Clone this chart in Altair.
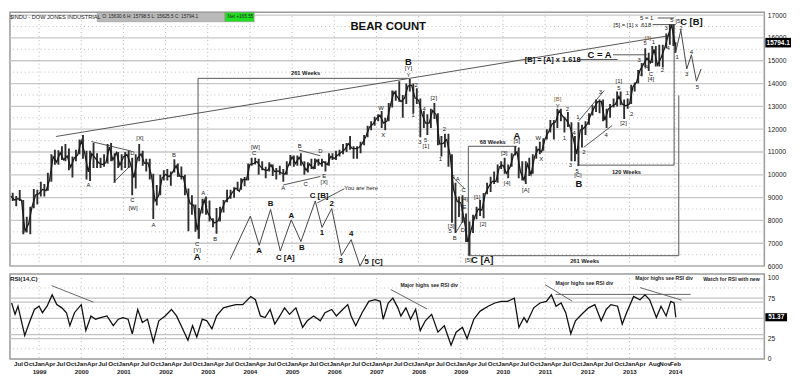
import altair as alt
import pandas as pd

FONT = "Liberation Sans"
W, H1, H2 = 764, 257, 86
T0, T1 = 1998.31, 2016.2

# ---------------- monthly price bars, Apr 1998 .. Feb 2014 ----------------
HIGH = [9184, 9211, 9070, 9338, 8900, 8160, 8600, 9380, 9350,
        9700, 9600, 10090, 10900, 11100, 11080, 11250, 11350, 11150, 10800, 11100, 11550,
        11750, 11050, 11050, 11400, 10950, 10750, 10900, 11350, 11400, 10950, 11000, 10900,
        11000, 11050, 10750, 10900, 11350, 11050, 10700, 10700, 10050, 9550, 10000, 10200,
        10250, 10150, 10680, 10500, 10360, 10000, 9400, 9100, 8700, 8550, 8950, 9050,
        8870, 8100, 8550, 8600, 8900, 9350, 9350, 9450, 9700, 9850, 9900, 10500,
        10750, 10750, 10700, 10600, 10350, 10550, 10450, 10300, 10400, 10250, 10600, 10870,
        10850, 10850, 10950, 10600, 10550, 10700, 10720, 10700, 10700, 10600, 10950, 10950,
        11050, 11100, 11350, 11400, 11700, 11250, 11250, 11450, 11750, 12150, 12350, 12550,
        12650, 12800, 12500, 13150, 13700, 13700, 14100, 13500, 14000, 14200, 14000, 13800,
        13350, 12800, 12650, 12900, 13150, 12700, 11700, 11800, 11800, 10900, 9650, 9050,
        9100, 8300, 7950, 8250, 8600, 8900, 9200, 9650, 9920, 10150, 10450, 10600,
        10750, 10450, 10950, 11250, 11200, 10600, 10600, 10750, 10900, 11250, 11450, 11600,
        12000, 12400, 12400, 12900, 12900, 12550, 12750, 12300, 11700, 12300, 12200, 12350,
        12700, 13050, 13300, 13300, 13300, 12900, 13100, 13350, 13650, 13650, 13300, 13350,
        13950, 14050, 14600, 14900, 15550, 15350, 15650, 15650, 15700, 15700, 16200, 16600,
        16590, 15800]
LOW = [8870, 8850, 8627, 8850, 7400, 7470, 7400, 8540, 8700,
       9050, 9050, 9300, 9700, 10440, 10440, 10650, 10600, 10200, 9880, 10600, 10900,
       10700, 9800, 9730, 10300, 10300, 10300, 10350, 10500, 10600, 9650, 10300, 10200,
       10300, 10300, 9100, 9400, 10600, 10400, 10150, 9800, 8060, 8650, 9100, 9750,
       9750, 9520, 10100, 9900, 9800, 9100, 7530, 8250, 7500, 7200, 8300, 8250,
       7950, 7700, 7420, 7950, 8350, 8800, 8950, 9000, 9300, 9350, 9500, 9750,
       10400, 10450, 10000, 10200, 9850, 10150, 9950, 9800, 10000, 9700, 10000, 10400,
       10350, 10400, 10400, 10000, 10100, 10250, 10250, 10400, 10350, 10150, 10400, 10650,
       10650, 10800, 10900, 11000, 11100, 10700, 10700, 10950, 11300, 11650, 11950, 12150,
       12350, 12050, 11950, 12350, 12950, 13250, 13200, 12500, 13100, 13650, 12700, 13100,
       11650, 12050, 11750, 12050, 12450, 11300, 10800, 11200, 10350, 7900, 7450, 8150,
       7900, 7050, 6470, 7450, 8050, 8200, 8100, 9150, 9250, 9600, 9650, 10250,
       10050, 9850, 10350, 10850, 9850, 9750, 9600, 9950, 10050, 10700, 10900, 11050,
       11550, 11850, 11550, 12050, 12350, 11850, 12100, 10600, 10600, 10400, 11200, 11750,
       12200, 12600, 12750, 12700, 12350, 12050, 12500, 12950, 13000, 13050, 12450, 12900,
       13100, 13650, 14000, 14350, 14700, 14550, 14900, 14750, 14750, 14700, 15550, 15700,
       15650, 15340]
CLOSE = [9063, 8900, 8952, 8883, 7539, 7843, 8592, 9117, 9181,
         9359, 9307, 9786, 10789, 10560, 10971, 10655, 10829, 10337, 10729, 10878, 11497,
         10941, 10128, 10922, 10734, 10522, 10448, 10522, 11215, 10651, 10971, 10415, 10787,
         10887, 10495, 9879, 10735, 10912, 10502, 10523, 9950, 8848, 9075, 9852, 10021,
         9920, 10106, 10404, 9946, 9925, 9243, 8737, 8664, 7592, 8397, 8896, 8342,
         8054, 7891, 7992, 8480, 8850, 8985, 9234, 9416, 9275, 9801, 9782, 10454,
         10488, 10584, 10358, 10226, 10188, 10435, 10140, 10174, 10080, 10027, 10428, 10783,
         10490, 10766, 10504, 10193, 10467, 10275, 10641, 10482, 10569, 10440, 10806, 10718,
         10865, 10993, 11109, 11367, 11168, 11150, 11186, 11381, 11679, 12081, 12221, 12463,
         12622, 12269, 12354, 13063, 13628, 13409, 13212, 13358, 13896, 13930, 13372, 13265,
         12650, 12266, 12263, 12820, 12638, 11350, 11378, 11544, 10851, 9325, 8829, 8776,
         8001, 7063, 7609, 8168, 8500, 8447, 9172, 9496, 9712, 9713, 10345, 10428,
         10067, 10325, 10857, 11009, 10137, 9774, 10466, 10015, 10788, 11118, 11006, 11578,
         11892, 12226, 12320, 12811, 12570, 12414, 12143, 11614, 10913, 11955, 12046, 12218,
         12633, 12952, 13212, 13214, 12393, 12880, 13009, 13091, 13437, 13096, 13026, 13104,
         13861, 14054, 14579, 14840, 15116, 14910, 15500, 14810, 15130, 15546, 16086, 16577,
         15699, 15794.1]
LAST_T = 2014.10
LAST_CLOSE = 15794.1

# ---------------- weekly RSI(14) ----------------
RSI_T = [1998.35, 1998.43, 1998.50, 1998.66, 1998.77, 1998.89, 1999.00, 1999.08, 1999.19, 1999.31,
         1999.42, 1999.54, 1999.65, 1999.73, 1999.84, 2000.00, 2000.11, 2000.23, 2000.34, 2000.46,
         2000.61, 2000.76, 2000.88, 2000.99, 2001.11, 2001.21, 2001.34, 2001.45, 2001.57, 2001.71,
         2001.84, 2001.99, 2002.14, 2002.26, 2002.37, 2002.53, 2002.64, 2002.74, 2002.87, 2002.98,
         2003.10, 2003.21, 2003.37, 2003.52, 2003.67, 2003.83, 2004.02, 2004.13, 2004.25, 2004.36,
         2004.48, 2004.59, 2004.71, 2004.82, 2004.94, 2005.09, 2005.25, 2005.36, 2005.51, 2005.67,
         2005.78, 2005.94, 2006.05, 2006.20, 2006.32, 2006.40, 2006.51, 2006.66, 2006.82, 2006.97,
         2007.09, 2007.16, 2007.28, 2007.39, 2007.51, 2007.58, 2007.70, 2007.81, 2007.93, 2008.04,
         2008.16, 2008.31, 2008.46, 2008.61, 2008.77, 2008.89, 2009.04, 2009.15, 2009.31, 2009.46,
         2009.65, 2009.81, 2009.96, 2010.11, 2010.27, 2010.38, 2010.50, 2010.57, 2010.73, 2010.88,
         2011.03, 2011.15, 2011.26, 2011.38, 2011.49, 2011.61, 2011.72, 2011.87, 2012.03, 2012.18,
         2012.33, 2012.45, 2012.56, 2012.72, 2012.83, 2012.95, 2013.10, 2013.25, 2013.37, 2013.48,
         2013.64, 2013.75, 2013.87, 2013.98, 2014.06, 2014.10]
RSI_V = [69, 55, 65, 29, 45, 61, 65, 57, 65, 79,
         67, 63, 57, 41, 57, 67, 35, 53, 49, 51,
         53, 41, 49, 51, 49, 31, 61, 45, 49, 21,
         47, 53, 61, 53, 41, 23, 41, 27, 49, 47,
         37, 53, 63, 65, 67, 67, 77, 73, 53, 51,
         61, 43, 53, 63, 55, 63, 39, 47, 53, 47,
         57, 61, 53, 61, 67, 53, 41, 57, 71, 73,
         71, 49, 69, 75, 63, 53, 63, 49, 61, 35,
         47, 55, 33, 41, 17, 33, 39, 25, 49, 59,
         65, 69, 71, 71, 75, 39, 51, 45, 63, 69,
         71, 79, 65, 69, 57, 31, 47, 55, 63, 67,
         47, 61, 67, 65, 43, 59, 77, 73, 79, 73,
         51, 65, 53, 71, 69, 51.37]
LAST_RSI = 51.37

# ---------------- annotations (date, price) ----------------
WAVE_LABELS = [
    ("A", 2000.17, 9556), ("D", 2001.21, 10962), ("[X]", 2001.39, 11624), ("C", 2001.21, 8895),
    ("[W]", 2001.23, 8564), ("A", 2001.71, 7778), ("B", 2002.20, 10879), ("C", 2002.75, 6951),
    ("[Y]", 2002.75, 6703), ("A", 2002.89, 9184), ("B", 2003.18, 7199), ("[W]", 2004.13, 11210),
    ("C", 2004.10, 10962), ("A", 2004.79, 9432), ("C", 2005.32, 9597), ("E", 2005.76, 9928),
    ("[X]", 2005.76, 9680), ("B", 2005.18, 11251), ("D", 2005.67, 11045), ("W", 2007.11, 12947),
    ("X", 2007.16, 11748), ("[Y]", 2007.76, 14684), ("Y", 2007.76, 14394), ("2", 2007.94, 13939),
    ("1", 2007.87, 12616), ("[2]", 2008.36, 13360), ("4", 2008.13, 12905), ("3", 2008.03, 11458),
    ("5", 2008.17, 11541), ("[1]", 2008.17, 11251), ("2", 2008.61, 11996), ("1", 2008.52, 10673),
    ("4", 2008.82, 9887), ("A", 2008.93, 9804), ("C", 2009.07, 9349), ("[4]", 2009.09, 8936),
    ("E", 2009.09, 8605), ("[3]", 2008.77, 7737), ("5", 2008.75, 7530), ("D", 2009.05, 7571),
    ("B", 2008.86, 7240), ("[5]", 2009.18, 6248), ("[1]", 2009.39, 9019), ("[2]", 2009.53, 7861),
    ("[3]", 2010.03, 10962), ("[4]", 2010.10, 9639), ("[5]", 2010.33, 11500), ("[A]", 2010.54, 9349),
    ("W", 2010.84, 11624), ("X", 2010.91, 10714), ("Y", 2011.30, 13030), ("2", 2011.53, 12864),
    ("1", 2011.46, 11624), ("4", 2011.69, 11830), ("3", 2011.60, 10424), ("5", 2011.76, 10176),
    ("[C]", 2011.78, 9970), ("1", 2011.78, 12533), ("3", 2012.31, 13608), ("2", 2011.92, 11003),
    ("4", 2012.45, 11748), ("[2]", 2012.86, 12285), ("2", 2013.05, 12657), ("1", 2012.95, 13567),
    ("5", 2012.75, 13815), ("[1]", 2012.75, 14105), ("5", 2013.37, 15759), ("1", 2013.57, 15800),
    ("3", 2013.23, 15014), ("A", 2013.41, 14725), ("C", 2013.51, 14435), ("[4]", 2013.51, 14187),
    ("4", 2013.28, 14353), ("2", 2013.78, 14601), ("4", 2013.92, 15552), ("3", 2013.87, 16420),
    ("5", 2014.01, 16793), ("[5]", 2014.17, 16751), ("5 = 1", 2013.41, 16875),
    ("[5] = [1] x .618", 2013.07, 16586),
    ("1", 2014.13, 15180), ("2", 2014.22, 16420), ("3", 2014.36, 14435), ("4", 2014.47, 15387),
    ("5", 2014.61, 13857),
]
BROWN_LABELS = [("[B]", 2011.30, 13319), ("[3]", 2013.44, 16007)]
WEEK_LABELS = [("261 Weeks", 2005.32, 14477), ("68 Weeks", 2009.76, 11458),
               ("261 Weeks", 2011.94, 6207), ("120 Weeks", 2012.93, 10135)]
BIG_LABELS = [("A", 2002.75, 6414), ("B", 2007.76, 14932), ("C [A]", 2009.51, 6248),
              ("A", 2010.33, 11706), ("B", 2011.80, 9597), ("C [B]", 2014.47, 16710),
              ("C = A", 2012.29, 15262)]
MID_LABELS = [("[B] = [A] x 1.618", 2011.18, 15014)]
DIAGRAM_LABELS = [("A", 2004.22, 6662), ("B", 2004.49, 8729), ("C [A]", 2004.84, 6372),
                  ("A", 2004.98, 8192), ("B", 2005.23, 6786), ("C [B]", 2005.64, 9060),
                  ("1", 2005.71, 7447), ("2", 2005.94, 8729), ("3", 2006.15, 6207),
                  ("4", 2006.40, 7406), ("5", 2006.77, 6165), ("[C]", 2007.02, 6165)]
YOU_ARE_HERE = ("You are here", 2006.24, 9432)

SEGMENTS = [
    (1999.40, 11680, 2013.94, 16100),                     # long trend line
    (2000.24, 11458, 2001.18, 11045), (2000.77, 9680, 2001.18, 10424),
    (2004.79, 9556, 2005.67, 9928), (2005.16, 11086, 2005.67, 10838),
    (2008.82, 9887, 2009.09, 9391), (2008.89, 7489, 2009.11, 8150),
    (2011.80, 12368, 2012.40, 13691), (2011.92, 11210, 2012.59, 12161),
    (2011.76, 15056, 2012.72, 15056), (2012.61, 15262, 2013.41, 15262),
    (2013.67, 16875, 2014.06, 16875), (2013.55, 16586, 2014.10, 16586),
    (2005.60, 8770, 2006.24, 9391),                       # "you are here" pointer
    (2002.77, 7199, 2002.77, 14229), (2002.77, 14229, 2007.74, 14229),   # 261 weeks
    (2009.18, 6455, 2009.18, 11251), (2009.18, 11251, 2010.33, 11251),   # 68 weeks
    (2009.18, 6455, 2014.17, 6455), (2014.17, 6455, 2014.17, 13484),     # 261 weeks
    (2011.76, 10424, 2014.06, 10424), (2014.06, 10424, 2014.06, 16586),  # 120 weeks
]
DIAGRAM_T = [2003.53, 2004.01, 2004.22, 2004.49, 2004.72, 2004.98, 2005.21, 2005.55,
             2005.71, 2005.94, 2006.17, 2006.40, 2006.61, 2006.75]
DIAGRAM_P = [6289, 8192, 6910, 8481, 6662, 8026, 7075, 8853, 7695, 8522, 6455, 7158, 6000, 6496]
PROJ_T = [2014.09, 2014.22, 2014.36, 2014.47, 2014.59, 2014.70]
PROJ_P = [15340, 16338, 14642, 15262, 14105, 14642]

RSI_SEGMENTS = [(1999.30, 90.4, 2000.29, 70.0), (2007.34, 85.6, 2008.20, 61.7),
                (2011.00, 91.6, 2011.64, 71.3), (2013.25, 88.0, 2014.24, 72.5),
                (2011.25, 79.6, 2014.45, 79.6)]
RSI_TEXTS = [("Major highs see RSI div", 2007.57, 91.6),
             ("Major highs see RSI div", 2011.25, 94.0), ("Major highs see RSI div", 2013.14, 100.0),
             ("Watch for RSI with new", 2014.75, 98.8)]
RSI_NAME = ("RSI(14,C)", 1998.31, 98.0)

PRICE_TICKS = list(range(6000, 17001, 1000))
PRICE_DOTS = list(range(6500, 16501, 1000))
RSI_SOLID = [75, 70, 50, 30, 25]
RSI_DOTS = [87.5, 62.5, 37.5, 12.5]
GRID_T = [1999.0, 2000.0, 2001.0, 2002.0, 2003.0, 2004.0, 2005.0, 2006.0, 2007.0,
          2008.0, 2009.0, 2010.0, 2011.0, 2012.0, 2013.0, 2014.083]

MONTHS = ["Jan", "Feb", "Mar", "Apr", "May", "Jun", "Jul", "Aug", "Sep", "Oct", "Nov", "Dec"]
tick_vals, tick_mon, tick_yr = [1998.5, 1998.75], ["Jul", "Oct"], ["", ""]
for y in range(1999, 2013):
    for m in (0, 3, 6, 9):
        tick_vals.append(round(y + m / 12, 4))
        tick_mon.append(MONTHS[m])
        tick_yr.append(str(y) if m == 0 else "")
for y, m in [(2013, 0), (2013, 3), (2013, 7), (2013, 10), (2014, 1)]:
    tick_vals.append(round(y + m / 12, 4))
    tick_mon.append(MONTHS[m])
    tick_yr.append(str(y) if (m == 0 or y == 2014) else "")

# ---------------- tables ----------------
rows = []
for i, (h, l, c) in enumerate(zip(HIGH, LOW, CLOSE)):
    y = 1998 + (3 + i) // 12
    m = (3 + i) % 12 + 1
    t_end = min(y + m / 12, LAST_T)
    rows.append({"t": y + (m - 0.5) / 12, "te": t_end, "high": h, "low": l, "close": c})
price = pd.DataFrame(rows)
price.loc[price.index[-1], "t"] = LAST_T - 0.01
rsi = pd.DataFrame({"t": RSI_T, "rsi": RSI_V})


def lab_df(items):
    return pd.DataFrame(items, columns=["txt", "t", "p"])


seg = pd.DataFrame(SEGMENTS, columns=["t", "p", "t2", "p2"])
rseg = pd.DataFrame(RSI_SEGMENTS, columns=["t", "p", "t2", "p2"])
diag = pd.DataFrame({"t": DIAGRAM_T, "p": DIAGRAM_P, "o": range(len(DIAGRAM_T))})
proj = pd.DataFrame({"t": PROJ_T, "p": PROJ_P, "o": range(len(PROJ_T))})

xs = alt.Scale(domain=[T0, T1], nice=False, zero=False)
ysp = alt.Scale(domain=[6000, 17124], nice=False, zero=False)
ysr = alt.Scale(domain=[0, 104.8], nice=False, zero=False)

mon_js = "[" + ",".join("'%s'" % s for s in tick_mon) + "]"
yr_js = "[" + ",".join("'%s'" % s for s in tick_yr) + "]"
val_js = "[" + ",".join(repr(v) for v in tick_vals) + "]"
label_expr = f"[{mon_js}[indexof({val_js}, datum.value)], {yr_js}[indexof({val_js}, datum.value)]]"

x_axis = alt.Axis(values=tick_vals, labelExpr=label_expr, grid=False, ticks=False, domain=False,
                  labelFontSize=6.3, labelFontWeight="bold", labelFont=FONT, labelColor="#222",
                  labelOverlap=False, labelFlush=False, labelPadding=2, labelLineHeight=8,
                  labelBound=False, title=None)
price_axis = alt.Axis(orient="right", values=PRICE_TICKS, format="d", grid=False, ticks=False,
                      domain=False, labelFontSize=6.8, labelFont=FONT, labelColor="#222",
                      labelPadding=3, title=None)
rsi_axis = alt.Axis(orient="right", values=[0, 25, 75, 100], format="d", grid=False, ticks=False,
                    domain=False, labelFontSize=6.8, labelFont=FONT, labelColor="#222",
                    labelPadding=3, title=None)


def XM(f):
    return alt.X(f, type="quantitative", scale=xs, axis=None)


def XR(f):
    return alt.X(f, type="quantitative", scale=xs, axis=x_axis)


def YP(f):
    return alt.Y(f, type="quantitative", scale=ysp, axis=price_axis)


def YR(f):
    return alt.Y(f, type="quantitative", scale=ysr, axis=rsi_axis)


g_solid = alt.Chart(pd.DataFrame({"p": PRICE_TICKS})).mark_rule(color="#c8c8c8", strokeWidth=1.3).encode(
    y=YP("p"))
g_dots = alt.Chart(pd.DataFrame({"p": PRICE_DOTS})).mark_rule(
    color="#bdbdbd", strokeWidth=1, strokeDash=[1, 3]).encode(y=YP("p"))
v_dots = alt.Chart(pd.DataFrame({"t": GRID_T})).mark_rule(
    color="#b5b5b5", strokeWidth=1, strokeDash=[1, 3]).encode(x=XM("t"))

bars = alt.Chart(price).mark_rule(color="#2e2e2e", strokeWidth=1.9, clip=True).encode(
    x=XM("t"), y=YP("low"), y2="high")
closes = alt.Chart(price).mark_line(color="#1a1a1a", strokeWidth=1.3, clip=True).encode(
    x=XM("te"), y=YP("close"))

segs = alt.Chart(seg).mark_rule(color="#555", strokeWidth=1).encode(
    x=XM("t"), y=YP("p"), x2="t2", y2="p2")
diag_line = alt.Chart(diag).mark_line(color="#444", strokeWidth=1).encode(
    x=XM("t"), y=YP("p"), order="o")
proj_line = alt.Chart(proj).mark_line(color="#444", strokeWidth=1).encode(
    x=XM("t"), y=YP("p"), order="o")


def texts(items, size, weight="normal", color="#222", align="center"):
    return alt.Chart(lab_df(items)).mark_text(
        font=FONT, fontSize=size, fontWeight=weight, color=color, align=align, baseline="middle"
    ).encode(x=XM("t"), y=YP("p"), text="txt")


wave_t = texts(WAVE_LABELS, 6)
brown_t = texts(BROWN_LABELS, 6, color="#8a5a2b")
week_t = texts(WEEK_LABELS, 5.8, weight="bold")
big_t = texts(BIG_LABELS, 9.5, weight="bold", color="#111")
mid_t = texts(MID_LABELS, 7.5, weight="bold", color="#111")
diag_t = texts(DIAGRAM_LABELS, 8, weight="bold", color="#111")
here_t = texts([YOU_ARE_HERE], 6, align="left")
title_t = texts([("BEAR COUNT", 2007.28, 16462)], 11.5, weight="bold", color="#111")

header_rects = pd.DataFrame({"t": [2000.38, 2003.41], "t2": [2003.41, 2004.10],
                             "p": [16710, 16710], "p2": [17124, 17124],
                             "c": ["#b9b9b9", "#22dd22"]})
hdr_rect = alt.Chart(header_rects).mark_rect(stroke="#888", strokeWidth=0.5).encode(
    x=XM("t"), x2="t2", y=YP("p"), y2="p2", color=alt.Color("c:N", scale=None))
hdr_t1 = texts([("$INDU - DOW JONES INDUSTRIAL", 1998.31, 16917)], 5.7, align="left")
hdr_t2 = texts([("O: 15630.6    H: 15798.5    L: 15625.5    C: 15794.1", 2000.50, 16917)], 4.8,
               align="left")
hdr_t3 = texts([("Net +165.55", 2003.47, 16917)], 4.8, align="left")

tag_df = pd.DataFrame({"p": [LAST_CLOSE], "txt": ["15794.1"]})
tag_rect = alt.Chart(tag_df).transform_calculate(a="datum.p + 210", b="datum.p - 210").mark_rect(
    color="#000").encode(x=alt.value(W + 1), x2=alt.value(W + 27), y=YP("a:Q"), y2="b:Q")
tag_txt = alt.Chart(tag_df).mark_text(font=FONT, fontSize=6.5, fontWeight="bold", color="#fff").encode(
    x=alt.value(W + 14), y=YP("p"), text="txt")

main = alt.layer(g_solid, g_dots, v_dots, segs, bars, closes, diag_line, proj_line,
                 wave_t, brown_t, week_t, big_t, mid_t, diag_t, here_t, title_t,
                 hdr_rect, hdr_t1, hdr_t2, hdr_t3, tag_rect, tag_txt).properties(width=W, height=H1)

# ---------------- RSI panel ----------------
r_solid = alt.Chart(pd.DataFrame({"p": RSI_SOLID})).mark_rule(
    color="#c3c3c3", strokeWidth=1.4).encode(y=YR("p"))
r_dots = alt.Chart(pd.DataFrame({"p": RSI_DOTS})).mark_rule(
    color="#bdbdbd", strokeWidth=1, strokeDash=[1, 3]).encode(y=YR("p"))
r_vdots = alt.Chart(pd.DataFrame({"t": GRID_T})).mark_rule(
    color="#b5b5b5", strokeWidth=1, strokeDash=[1, 3]).encode(x=XR("t"))
r_line = alt.Chart(rsi).mark_line(color="#111", strokeWidth=1.3).encode(x=XR("t"), y=YR("rsi"))
r_segs = alt.Chart(rseg).mark_rule(color="#666", strokeWidth=1).encode(
    x=XR("t"), y=YR("p"), x2="t2", y2="p2")
r_txt = alt.Chart(lab_df(RSI_TEXTS)).mark_text(
    font=FONT, fontSize=5.2, fontWeight="bold", color="#222", align="left", baseline="middle").encode(
    x=XR("t"), y=YR("p"), text="txt")
r_name = alt.Chart(lab_df([RSI_NAME])).mark_text(
    font=FONT, fontSize=6.3, fontWeight="bold", color="#222", align="left", baseline="middle").encode(
    x=XR("t"), y=YR("p"), text="txt")
rtag_df = pd.DataFrame({"p": [LAST_RSI], "txt": ["51.37"]})
rtag_rect = alt.Chart(rtag_df).transform_calculate(a="datum.p + 5.0", b="datum.p - 5.0").mark_rect(
    color="#000").encode(x=alt.value(W + 1), x2=alt.value(W + 23), y=YR("a:Q"), y2="b:Q")
rtag_txt = alt.Chart(rtag_df).mark_text(font=FONT, fontSize=6.5, fontWeight="bold", color="#fff").encode(
    x=alt.value(W + 12), y=YR("p"), text="txt")

lower = alt.layer(r_solid, r_dots, r_vdots, r_segs, r_line, r_txt, r_name, rtag_rect, rtag_txt).properties(
    width=W, height=H2)

chart = alt.vconcat(main, lower, spacing=1).resolve_scale(y="independent").properties(
    padding=0, background="#ffffff").configure_view(stroke="#9a9a9a", strokeWidth=1.5)

chart.save("out.html", embed_options={"renderer": "svg", "actions": False})
